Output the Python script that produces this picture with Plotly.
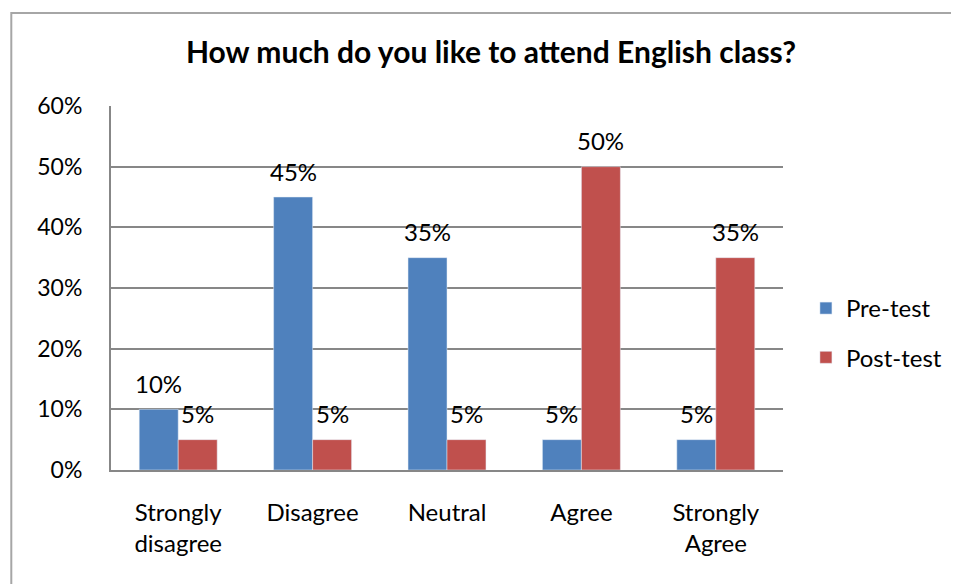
import plotly.graph_objects as go

categories = ["Strongly<br>disagree", "Disagree", "Neutral", "Agree", "Strongly<br>Agree"]
pre_test = [10, 45, 35, 5, 5]
post_test = [5, 5, 5, 50, 35]
y_ticks = [0, 10, 20, 30, 40, 50, 60]
y_tick_labels = [f"{v}%" for v in y_ticks]

BLUE = "#4F81BD"
RED = "#C0504D"
FONT = "Lato, Open Sans, sans-serif"

# the page body has an 8px margin; compensate so the picture lands where intended
OFF = 8
W, H = 959 - OFF, 584 - OFF
L, T = 111 - OFF, 106 - OFF
PW, PH = 674, 364

fig = go.Figure()
fig.add_trace(go.Bar(name="Pre-test", x=categories, y=pre_test, marker_color=BLUE,
                     legendgroup="a"))
fig.add_trace(go.Bar(name="Post-test", x=categories, y=post_test, marker_color=RED,
                     legendgroup="b"))

annotations = []
for series, shift in ((pre_test, -19.5), (post_test, 19.5)):
    for c, v in zip(categories, series):
        annotations.append(dict(x=c, y=v, xref="x", yref="y", text=f"{v}%",
                                showarrow=False, xshift=shift, yshift=26,
                                yanchor="middle",
                                font=dict(family=FONT, size=24, color="#000")))

fig.update_layout(
    width=W, height=H,
    margin=dict(l=L, r=W - L - PW, t=T, b=H - T - PH),
    paper_bgcolor="white", plot_bgcolor="white",
    barmode="group", bargap=0.42, bargroupgap=0,
    font=dict(family=FONT, size=24, color="#000"),
    title=dict(text="<b>How much do you like to attend English class?</b>",
               x=(491 - OFF) / W, xanchor="center", xref="container",
               y=1 - (52 - OFF) / H, yanchor="middle", yref="container",
               font=dict(family=FONT, size=30, color="#000")),
    xaxis=dict(showgrid=False, showline=True, linecolor="#878787", linewidth=2,
               ticks="outside", ticklen=20, tickcolor="rgba(0,0,0,0)",
               tickfont=dict(size=24), zeroline=False),
    yaxis=dict(range=[0, 60], tickvals=y_ticks, ticktext=y_tick_labels,
               showgrid=True, gridcolor="#878787", gridwidth=1.5,
               showline=True, linecolor="#878787", linewidth=2,
               ticks="outside", ticklen=22, tickcolor="rgba(0,0,0,0)",
               tickfont=dict(size=23), zeroline=False),
    legend=dict(x=1.0 + 23 / PW, xanchor="left", y=(470 - 333) / 364, yanchor="middle",
                xref="paper", yref="paper",
                traceorder="grouped", tracegroupgap=15,
                font=dict(size=24), bgcolor="rgba(0,0,0,0)"),
    annotations=annotations,
    shapes=[dict(type="rect", xref="paper", yref="paper",
                 x0=(11 - 111) / PW, x1=(1010 - 111) / PW,
                 y0=(470 - 640) / PH, y1=(470 - 13) / PH,
                 line=dict(color="#A6A6A6", width=2), fillcolor="rgba(0,0,0,0)",
                 layer="below")],
)

fig.write_html("out.html")
